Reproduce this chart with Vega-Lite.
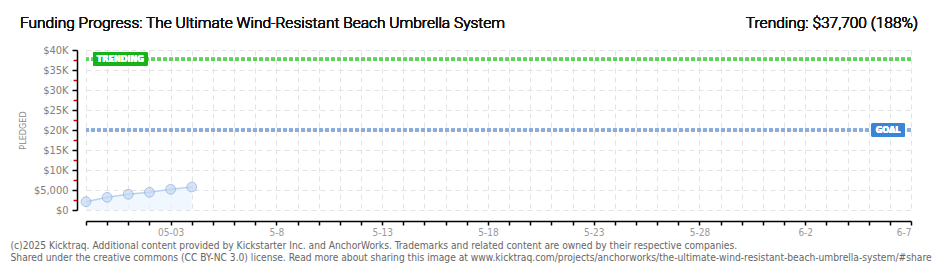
{
  "$schema": "https://vega.github.io/schema/vega-lite/v6.json",
  "width": 825,
  "height": 160,
  "autosize": {"type": "none"},
  "padding": {"left": 86, "top": 50, "right": 29, "bottom": 60},
  "background": "white",
  "config": {"view": {"stroke": null}, "font": "DejaVu Sans Condensed"},
  "data": {
    "values": [
      {"date": "2025-04-29", "pledged": 2075},
      {"date": "2025-04-30", "pledged": 3175},
      {"date": "2025-05-01", "pledged": 3925},
      {"date": "2025-05-02", "pledged": 4425},
      {"date": "2025-05-03", "pledged": 5175},
      {"date": "2025-05-04", "pledged": 5750}
    ]
  },
  "layer": [
    {
      "mark": {"type": "area", "color": "#ebf3fd", "line": {"color": "#b8d2f0", "strokeWidth": 1.5}},
      "encoding": {
        "x": {
          "field": "date",
          "type": "temporal",
          "scale": {
            "type": "utc",
            "domain": [
              {"year": 2025, "month": 4, "date": 29, "utc": true},
              {"year": 2025, "month": 6, "date": 7, "utc": true}
            ]
          },
          "axis": {
            "tickCount": {"interval": "day", "step": 1},
            "offset": 11,
            "domainColor": "#000000",
            "domainWidth": 1.5,
            "tickColor": "#000000",
            "tickWidth": 1.5,
            "tickSize": 4,
            "labelOverlap": false,
            "labelExpr": "round((datum.value - 1745884800000) / 86400000) % 5 == 4 ? ((utcmonth(datum.value) == 4 && utcdate(datum.value) == 3) ? '05-03' : (utcmonth(datum.value) + 1) + '-' + utcdate(datum.value)) : ''",
            "labelColor": "#999999",
            "labelFontSize": 10,
            "labelPadding": 2,
            "labelFont": "DejaVu Sans Condensed",
            "grid": true,
            "gridDash": [5, 4],
            "gridColor": "#e3e3e3",
            "title": [
              "(c)2025 Kicktraq. Additional content provided by Kickstarter Inc. and AnchorWorks. Trademarks and related content are owned by their respective companies.",
              "Shared under the creative commons (CC BY-NC 3.0) license. Read more about sharing this image at www.kicktraq.com/projects/anchorworks/the-ultimate-wind-resistant-beach-umbrella-system/#share"
            ],
            "titleAnchor": "start",
            "titleAlign": "left",
            "titleBaseline": "alphabetic",
            "titleX": -76,
            "titleY": 27,
            "titleFont": "DejaVu Sans Condensed",
            "titleFontSize": 10.2,
            "titleFontWeight": "normal",
            "titleColor": "#666666",
            "titleLineHeight": 12
          }
        },
        "y": {
          "field": "pledged",
          "type": "quantitative",
          "scale": {"domain": [0, 40000], "nice": false},
          "axis": {
            "values": [0, 2500, 5000, 7500, 10000, 12500, 15000, 17500, 20000, 22500, 25000, 27500, 30000, 32500, 35000, 37500, 40000],
            "tickCount": 40,
            "offset": 9,
            "domainColor": "#000000",
            "domainWidth": 1.5,
            "tickColor": {"condition": {"test": "datum.value % 5000 != 0", "value": "#e00000"}, "value": "#000000"},
            "tickSize": {"condition": {"test": "datum.value % 5000 != 0", "value": 4}, "value": 5},
            "tickWidth": 1.5,
            "labelOverlap": false,
            "labelFontSize": {"condition": {"test": "datum.value % 5000 != 0", "value": 0}, "value": 11},
            "labelExpr": "datum.value % 5000 != 0 ? '' : datum.value == 0 ? '$0' : datum.value == 5000 ? '$5,000' : '$' + (datum.value / 1000) + 'K'",
            "labelColor": "#808080",
            "labelPadding": 4,
            "labelFont": "DejaVu Sans Condensed",
            "grid": true,
            "gridDash": [5, 4],
            "gridColor": "#e3e3e3",
            "gridOpacity": {"condition": {"test": "datum.value % 5000 != 0", "value": 0}, "value": 1},
            "title": "PLEDGED",
            "titleX": -55,
            "titleY": 80,
            "titleAlign": "center",
            "titleBaseline": "middle",
            "titleFont": "DejaVu Sans Condensed",
            "titleFontSize": 9,
            "titleFontWeight": "normal",
            "titleColor": "#888888"
          }
        }
      }
    },
    {
      "mark": {"type": "point", "filled": true, "size": 95, "color": "#c4daf4", "stroke": "#89abd9", "strokeWidth": 1},
      "encoding": {
        "x": {"field": "date", "type": "temporal"},
        "y": {"field": "pledged", "type": "quantitative"}
      }
    },
    {
      "mark": {"type": "rule", "color": "#62cf62", "strokeWidth": 3, "strokeDash": [4, 2]},
      "encoding": {"y": {"datum": 37700, "type": "quantitative"}}
    },
    {
      "mark": {"type": "rule", "color": "#8aaddc", "strokeWidth": 3, "strokeDash": [4, 2]},
      "encoding": {"y": {"datum": 20000, "type": "quantitative"}}
    },
    {
      "mark": {"type": "rect", "color": "#17b417", "cornerRadius": 2},
      "encoding": {
        "x": {"datum": {"year": 2025, "month": 4, "date": 29, "hours": 8, "utc": true}, "type": "temporal"},
        "x2": {"datum": {"year": 2025, "month": 5, "date": 1, "hours": 22, "utc": true}},
        "y": {"datum": 39500, "type": "quantitative"},
        "y2": {"datum": 36000}
      }
    },
    {
      "mark": {"type": "text", "text": "TRENDING", "color": "white", "fontSize": 9, "fontWeight": "bold", "font": "DejaVu Sans Condensed", "align": "center", "baseline": "middle"},
      "encoding": {
        "x": {"datum": {"year": 2025, "month": 4, "date": 30, "hours": 15, "utc": true}, "type": "temporal"},
        "y": {"datum": 37750, "type": "quantitative"}
      }
    },
    {
      "mark": {"type": "rect", "color": "#3a86d6", "cornerRadius": 2},
      "encoding": {
        "x": {"datum": {"year": 2025, "month": 6, "date": 5, "hours": 3, "utc": true}, "type": "temporal"},
        "x2": {"datum": {"year": 2025, "month": 6, "date": 6, "hours": 17, "utc": true}},
        "y": {"datum": 21750, "type": "quantitative"},
        "y2": {"datum": 18250}
      }
    },
    {
      "mark": {"type": "text", "text": "GOAL", "color": "white", "fontSize": 9, "fontWeight": "bold", "font": "DejaVu Sans Condensed", "align": "center", "baseline": "middle"},
      "encoding": {
        "x": {"datum": {"year": 2025, "month": 6, "date": 5, "hours": 22, "utc": true}, "type": "temporal"},
        "y": {"datum": 20000, "type": "quantitative"}
      }
    },
    {
      "mark": {"type": "text", "text": "Funding Progress: The Ultimate Wind-Resistant Beach Umbrella System", "color": "#111111", "fontSize": 15.5, "fontWeight": 300, "font": "Roboto", "align": "left", "baseline": "alphabetic", "dx": -66, "dy": -22},
      "encoding": {
        "x": {"datum": {"year": 2025, "month": 4, "date": 29, "utc": true}, "type": "temporal"},
        "y": {"datum": 40000, "type": "quantitative"}
      }
    },
    {
      "mark": {"type": "text", "text": "Trending:  $37,700 (188%)", "color": "#111111", "fontSize": 15.5, "fontWeight": 300, "font": "Roboto", "align": "right", "baseline": "alphabetic", "dx": 7, "dy": -22},
      "encoding": {
        "x": {"datum": {"year": 2025, "month": 6, "date": 7, "utc": true}, "type": "temporal"},
        "y": {"datum": 40000, "type": "quantitative"}
      }
    }
  ]
}
